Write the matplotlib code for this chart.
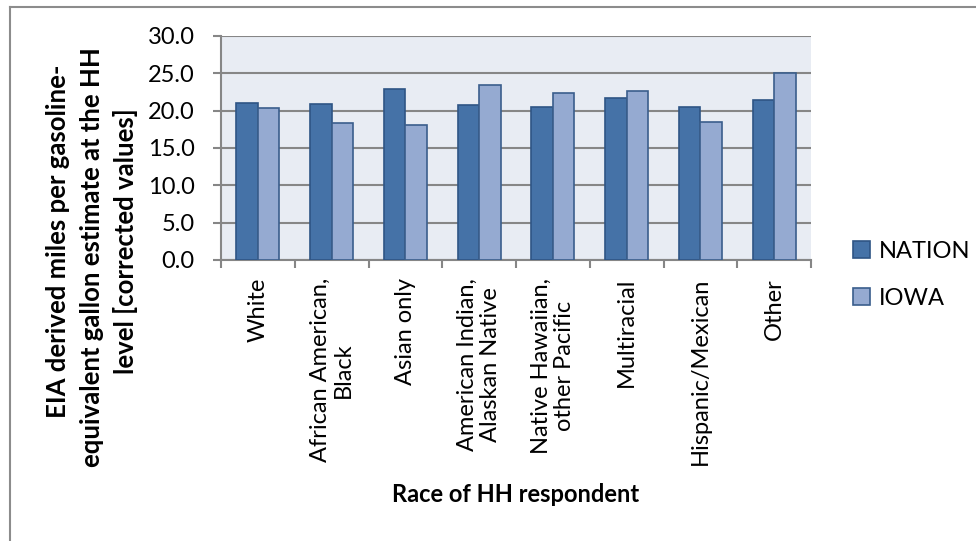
import matplotlib
matplotlib.use("Agg")
import matplotlib.pyplot as plt
from matplotlib.lines import Line2D
import numpy as np

plt.rcParams['font.family'] = ['Lato', 'DejaVu Sans']

categories = ["White", "African American,\nBlack", "Asian only",
              "American Indian,\nAlaskan Native", "Native Hawaiian,\nother Pacific",
              "Multiracial", "Hispanic/Mexican", "Other"]
nation = [21.0, 20.9, 22.9, 20.8, 20.5, 21.7, 20.5, 21.4]
iowa = [20.4, 18.4, 18.1, 23.5, 22.3, 22.6, 18.5, 25.0]
yticks = [0, 5, 10, 15, 20, 25, 30]
ylabel_lines = ["EIA derived miles per gasoline-",
                "equivalent gallon estimate at the HH",
                "level [corrected values]"]

W, H = 976, 541
FS = 17
fig = plt.figure(figsize=(W / 100, H / 100), dpi=100)

# chart frame (top and left edges)
fig.add_artist(Line2D([10 / W, 1], [1 - 6.5 / H, 1 - 6.5 / H], color="#8c8c8c", lw=1.5,
                      transform=fig.transFigure))
fig.add_artist(Line2D([10 / W, 10 / W], [0, 1 - 6.5 / H], color="#8c8c8c", lw=1.5,
                      transform=fig.transFigure))

ax = fig.add_axes([221 / W, 1 - 260 / H, (811 - 221) / W, (260 - 36) / H])
ax.set_facecolor("#E8ECF3")

x = np.arange(len(categories))
bw = 0.29
ax.bar(x - bw / 2, nation, width=bw, color="#4572A7", edgecolor="#2F5585", lw=1.2,
       label="NATION", zorder=3)
ax.bar(x + bw / 2, iowa, width=bw, color="#95AAD1", edgecolor="#3A5E8C", lw=1.2,
       label="IOWA", zorder=3)

ax.set_xlim(-0.5, len(categories) - 0.5)
ax.set_ylim(0, 30)
ax.set_yticks(yticks)
ax.set_yticklabels([f"{v:.1f}" for v in yticks], fontsize=FS)
ax.yaxis.grid(True, color="#868686", lw=1.5, zorder=1)
ax.set_axisbelow(True)

ax.set_xticks(np.arange(len(categories) + 1) - 0.5)
ax.set_xticklabels([])
ax.set_xticks(x, minor=True)
ax.set_xticklabels(categories, minor=True, rotation=90, fontsize=FS,
                   ha="center", va="top", multialignment="center", linespacing=1.1)
ax.tick_params(axis="x", which="minor", length=0, pad=13)
ax.tick_params(axis="x", which="major", length=6, width=1.5, color="#868686")
ax.tick_params(axis="y", length=6, width=1.5, color="#868686", pad=13)

for s in ["top", "right"]:
    ax.spines[s].set_visible(False)
for s in ["left", "bottom"]:
    ax.spines[s].set_color("#868686")
    ax.spines[s].set_linewidth(1.5)

# vertical axis title, one rotated line at a time
for line, px, py in zip(ylabel_lines, [58, 92, 126], [241, 257, 241]):
    fig.text(px / W, 1 - py / H, line, rotation=90, ha="center", va="center",
             fontsize=18.5, fontweight="bold")
fig.text(516 / W, 1 - 494 / H, "Race of HH respondent", ha="center", va="center",
         fontsize=FS, fontweight="bold")

ax.legend(loc="center left", bbox_to_anchor=(853 / W, 1 - 275 / H),
          bbox_transform=fig.transFigure, frameon=False, fontsize=FS, borderpad=0,
          borderaxespad=0, handlelength=0.7, handleheight=0.7, handletextpad=0.4,
          labelspacing=1.1)

fig.savefig("out.png", dpi=100)
